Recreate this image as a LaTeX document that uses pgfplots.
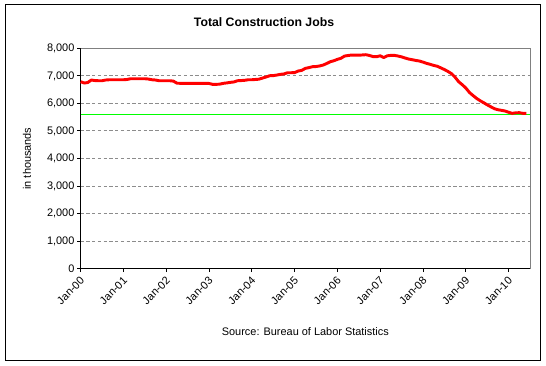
\documentclass[border=0pt]{standalone}
\usepackage{pgfplots}
\pgfplotsset{compat=1.18}
\usepackage{fontspec}
\setmainfont{Liberation Sans}
\begin{document}
\begin{tikzpicture}[x=0.75pt,y=0.75pt]
\path[use as bounding box] (0,0) rectangle (546,365);
\draw[black,line width=0.75pt] (5,5) rectangle (540,360);
\node[font=\fontsize{9.2}{11}\selectfont\bfseries] at (264,343) {Total Construction Jobs};
\begin{axis}[
  at={(60.5pt,72.2pt)}, anchor=south west,
  scale only axis, width=337pt, height=165.3pt,
  xmin=0, xmax=126, ymin=0, ymax=8000,
  xtick={0,12,24,36,48,60,72,84,96,108,120},
  xticklabels={Jan-00,Jan-01,Jan-02,Jan-03,Jan-04,Jan-05,Jan-06,Jan-07,Jan-08,Jan-09,Jan-10},
  ytick={0,1000,...,8000},
  axis x line*=bottom, axis y line*=left,
  axis line style={black,line width=0.75pt},
  tick style={black,line width=0.75pt},
  tick align=outside, major tick length=2.5pt,
  ymajorgrids,
  major grid style={gray!90,line width=0.75pt,dash pattern=on 2.5pt off 1.8pt},
  xticklabel style={rotate=45,anchor=east,font=\fontsize{8.2}{10}\selectfont,inner sep=1pt,xshift=-1.5pt,yshift=-4.5pt},
  yticklabel style={font=\fontsize{8.2}{10}\selectfont,inner sep=1pt,xshift=-1pt},
  /pgf/number format/.cd, 1000 sep={,}, assume math mode=true,
  /pgfplots/.cd,
  xlabel={Source: Bureau of Labor Statistics},
  ylabel={in thousands},
  every axis x label/.style={at={(axis description cs:0.5,-0.283)},anchor=center,font=\fontsize{8.2}{10}\selectfont},
  every axis y label/.style={at={(axis description cs:-0.1195,0.5)},rotate=90,anchor=center,font=\fontsize{8.2}{10}\selectfont},
  clip=false,
]
\draw[gray,line width=0.75pt] (axis cs:0,8000) -- (axis cs:126,8000) -- (axis cs:126,0);
\addplot[color={rgb,255:red,0;green,255;blue,0},line width=1.1pt] coordinates {(0,5600) (126,5600)};
\addplot[red,line width=2.2pt,line join=round] coordinates {
(0,6790)(1,6740)(2,6760)(3,6850)(4,6830)(5,6824)(6,6824)(7,6850)(8,6860)(9,6860)
(10,6860)(11,6860)(12,6860)(13,6870)(14,6897)(15,6897)(16,6897)(17,6897)(18,6897)(19,6885)
(20,6860)(21,6850)(22,6824)(23,6824)(24,6824)(25,6824)(26,6810)(27,6735)(28,6730)(29,6730)
(30,6730)(31,6730)(32,6730)(33,6730)(34,6730)(35,6730)(36,6725)(37,6693)(38,6693)(39,6700)
(40,6730)(41,6745)(42,6766)(43,6780)(44,6824)(45,6830)(46,6840)(47,6860)(48,6860)(49,6870)
(50,6880)(51,6922)(52,6960)(53,7006)(54,7010)(55,7030)(56,7056)(57,7070)(58,7114)(59,7114)
(60,7120)(61,7176)(62,7200)(63,7273)(64,7300)(65,7333)(66,7340)(67,7360)(68,7394)(69,7450)
(70,7514)(71,7550)(72,7600)(73,7640)(74,7720)(75,7740)(76,7757)(77,7757)(78,7750)(79,7760)
(80,7769)(81,7740)(82,7700)(83,7696)(84,7730)(85,7665)(86,7730)(87,7745)(88,7745)(89,7720)
(90,7690)(91,7648)(92,7610)(93,7587)(94,7560)(95,7539)(96,7500)(97,7455)(98,7420)(99,7380)
(100,7350)(101,7290)(102,7230)(103,7160)(104,7080)(105,6950)(106,6788)(107,6680)(108,6560)(109,6400)
(110,6290)(111,6185)(112,6100)(113,6027)(114,5950)(115,5880)(116,5810)(117,5771)(118,5750)(119,5724)
(120,5680)(121,5640)(122,5660)(123,5665)(124,5640)(125,5640)
};
\end{axis}
\end{tikzpicture}
\end{document}
